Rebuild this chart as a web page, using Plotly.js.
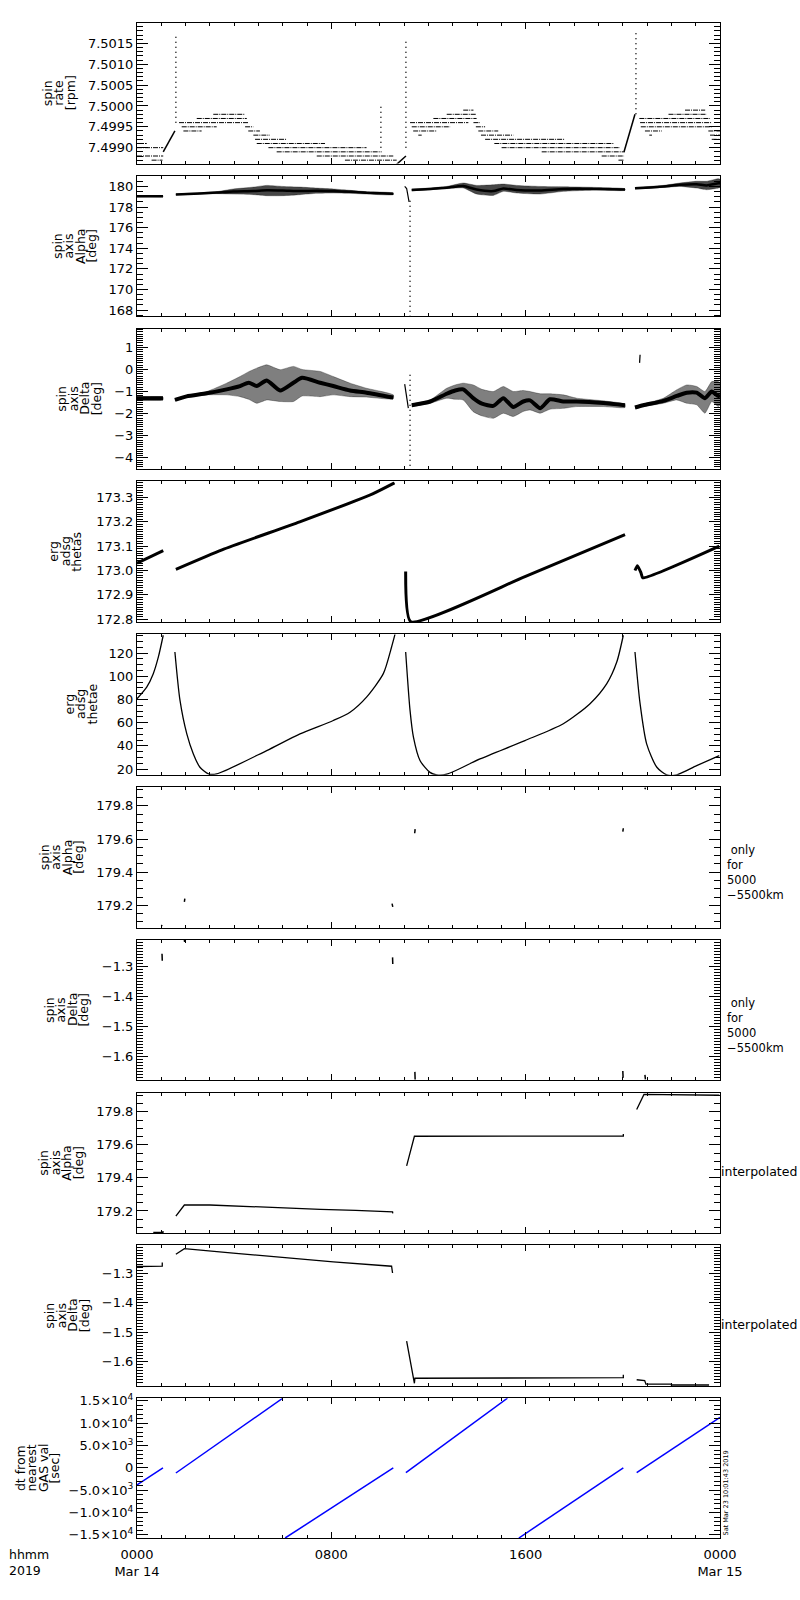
<!DOCTYPE html>
<html><head><meta charset="utf-8">
<script src="https://cdn.plot.ly/plotly-3.0.1.min.js"></script>
<style>body{margin:0;background:#fff}#plot{width:800px;height:1600px}</style>
</head><body><div id="plot"></div>
<script>
// ---------------- DATA (hours since 0000 UT, Mar 14 2019) ----------------
// Panel 1: spin rate [rpm] - quantised levels
const rateLevelStart = [0,0,0,0.6, 1.73,2.46,3.14,1.84,1.91,4.45,4.58,4.79,4.86,4.93,5.41,5.75,7.40,8.56,
  11.24,11.31,11.37,11.58,12.20,12.75,13.43,13.85,13.95,14.05,14.16,14.33,14.71,15.01,16.66,19.13,19.82,
  22.56,21.88,20.68,20.71,20.74,20.91,21.09,23.52,23.59,23.66];
const rateLevelEnd = [0.40,1.08,1.08,1.05, 4.58,4.52,4.45,3.28,2.66,4.79,5.06,5.47,6.16,7.74,9.45,10.07,10.55,10.69,
  13.64,12.89,12.34,11.72,13.98,13.95,13.85,14.12,14.33,14.87,15.49,17.62,19.61,19.88,20.09,20.05,20.05,
  23.39,23.45,23.59,23.66,23.66,21.60,21.20,24.0,24.0,24.0];
const rateLevel = [7.4991,7.4990,7.4988,7.4987, 7.4996,7.4997,7.4998,7.4995,7.4994,7.4995,7.4994,7.4993,7.4992,7.4991,7.4990,7.4989,7.4988,7.4987,
  7.4996,7.4995,7.4994,7.4993,7.4997,7.4998,7.4999,7.4996,7.4995,7.4994,7.4993,7.4992,7.4991,7.4990,7.4989,7.4988,7.4987,
  7.4999,7.4998,7.4997,7.4996,7.4995,7.4994,7.4993,7.4994,7.4993,7.4992];
const rateRampStart = [1.08, 10.69, 20.05];
const rateRampEnd = [1.56, 11.07, 20.50];
const rateRampFrom = [7.4989, 7.4986, 7.4989];
const rateRampTo = [7.4994, 7.4988, 7.4998];
const rateSpikeH = [1.60, 10.04, 11.07, 20.54];
const rateSpikeLow = [7.4996, 7.4990, 7.4990, 7.4998];
const rateSpikeHigh = [7.5017, 7.5000, 7.50155, 7.50184];

// Panel 2: spin axis Alpha [deg] - scattered bands (envelopes + dense core)
const alphaH = [[0,0.5,1.07],[1.6,2.59,3.28,3.96,4.8,5.34,6.0,6.7,7.4,8.08,8.77,9.45,10.55],
  [11.31,12.07,12.75,13.43,13.98,14.67,15.08,15.63,16.59,17.55,18.92,20.09],[20.5,21.67,22.35,23.04,23.45,23.93,24]];
const alphaUp = [[179.1,179.1,179.1],[179.27,179.39,179.49,179.75,179.94,180.1,180.0,179.94,179.84,179.75,179.62,179.49,179.36],
  [179.75,179.85,180.0,180.33,180.1,180.16,180.23,180.1,180.0,179.97,179.9,179.77],[179.9,180.1,180.33,180.5,180.5,180.75,180.7]];
const alphaLo = [[178.98,179.0,179.0],[179.17,179.26,179.3,179.26,179.2,179.1,179.1,179.2,179.33,179.36,179.33,179.26,179.2],
  [179.58,179.68,179.78,179.85,179.26,179.13,179.52,179.36,179.26,179.52,179.65,179.62],[179.75,179.9,180.0,179.84,179.68,179.84,179.9]];
const alphaCore = [[179.05,179.05,179.05],[179.22,179.32,179.4,179.5,179.55,179.62,179.6,179.55,179.58,179.55,179.48,179.38,179.28],
  [179.66,179.76,179.88,180.05,179.7,179.55,179.8,179.65,179.6,179.75,179.75,179.7],[179.82,180.0,180.15,180.2,180.1,180.3,180.3]];
const alphaDipH = [11.02, 11.1, 11.2];
const alphaDipV = [180.0, 179.8, 178.5];
const alphaDropH = [11.24, 11.24];
const alphaDropV = [178.6, 167.4];

// Panel 3: spin axis Delta [deg]
const deltaH = [[0,0.5,1.07],[1.56,2.04,2.87,3.69,4.24,4.6,4.93,5.34,5.89,6.44,6.8,7.54,8.08,8.77,9.45,10.55],
  [11.31,12.07,12.75,13.1,13.43,13.84,14.2,14.67,15.08,15.49,15.9,16.18,16.6,17.0,17.55,18.1,19.2,20.09],
  [20.5,20.84,21.67,22.22,22.63,23.04,23.38,23.66,23.93,24]];
const deltaUp = [[-1.22,-1.23,-1.25],[-1.35,-1.18,-1.0,-0.62,-0.32,-0.1,0.06,0.21,-0.01,0.14,0.0,-0.09,-0.32,-0.62,-0.85,-1.15],
  [-1.57,-1.38,-0.85,-0.7,-0.62,-0.7,-0.9,-1.0,-0.77,-1.0,-0.95,-1.0,-1.1,-1.1,-1.15,-1.3,-1.42,-1.57],
  [-1.68,-1.57,-1.3,-0.92,-0.7,-0.77,-1.0,-0.55,-0.55,-0.6]];
const deltaLo = [[-1.4,-1.4,-1.38],[-1.41,-1.25,-1.15,-1.15,-1.23,-1.35,-1.53,-1.38,-1.45,-1.45,-1.2,-1.23,-1.15,-1.23,-1.25,-1.33],
  [-1.68,-1.53,-1.3,-1.35,-1.38,-1.91,-2.1,-2.21,-1.98,-2.13,-1.9,-1.83,-1.98,-1.8,-1.76,-1.68,-1.68,-1.72],
  [-1.76,-1.68,-1.53,-1.38,-1.53,-1.6,-1.98,-1.45,-1.68,-1.6]];
const deltaCore = [[-1.3,-1.3,-1.3],[-1.38,-1.22,-1.08,-0.9,-0.75,-0.6,-0.75,-0.5,-0.95,-0.6,-0.38,-0.6,-0.75,-0.95,-1.05,-1.27],
  [-1.62,-1.45,-1.1,-0.95,-0.9,-1.3,-1.55,-1.65,-1.3,-1.7,-1.45,-1.4,-1.75,-1.35,-1.45,-1.45,-1.52,-1.62],
  [-1.72,-1.62,-1.42,-1.2,-1.05,-1.05,-1.3,-1.0,-1.2,-1.15]];
const deltaDipH = [11.02, 11.1, 11.17];
const deltaDipV = [-0.66, -1.2, -1.75];
const deltaDropH = [11.24, 11.24];
const deltaDropV = [-0.24, -4.6];
const deltaHookH = [20.69, 20.70, 20.71];
const deltaHookV = [0.30, 0.50, 0.67];

// Panel 4: erg adsg thetas
const thetasH = [[0,1.08],[1.6,3.5,6.7,9.7,10.6],[11.06,11.27,15.97,20.09],[20.5,20.6,20.75,20.82,23.97]];
const thetasV = [[173.03,173.082],[173.005,173.085,173.2,173.315,173.36],[172.996,172.79,172.975,173.147],[173.0,173.02,172.99,172.97,173.10]];

// Panel 5: erg adsg thetae
const thetaeH = [[0,0.4,0.67,0.88,1.08],
  [1.56,1.77,2.05,2.32,2.59,2.94,3.28,5.34,6.71,8.08,8.77,9.45,10.14,10.48,10.62],
  [11.06,11.24,11.38,11.65,12.06,12.34,12.75,14.12,15.97,17.55,18.65,19.34,19.75,20.02],
  [20.5,20.71,20.98,21.4,21.81,22.22,23.04,23.97]];
const thetaeV = [[80.6,90.6,102.2,116.6,135.3],
  [120.9,79.1,50.3,33,21.5,15.8,15.8,35.9,50.3,61.8,69,82,102.2,125.2,136],
  [120.9,70.5,47.4,27.3,17.1,14.9,15.5,28.7,44.5,59,76.3,93.6,112.2,135.3],
  [120.9,76.3,41.7,21.5,14.9,14.9,22.9,31.6]];

// Panel 6: Alpha only for 5000-5500 km (short marks)
const alphaOnlyH = [[1.0,1.04],[1.95,1.97],[10.5,10.53],[11.43,11.45],[20.0,20.02],[20.91,20.93]];
const alphaOnlyV = [[179.075,179.08],[179.22,179.24],[179.21,179.19],[179.635,179.66],[179.645,179.665],[179.9,179.91]];
// Panel 7: Delta only for 5000-5500 km
const deltaOnlyH = [[1.03,1.04],[1.95,1.96],[10.52,10.53],[11.44,11.45],[20.0,20.01],[20.91,20.93]];
const deltaOnlyV = [[-1.258,-1.281],[-1.212,-1.219],[-1.27,-1.292],[-1.65,-1.675],[-1.647,-1.67],[-1.66,-1.675]];

// Panel 8: Alpha interpolated
const alphaIntH = [[0.67,1.07,1.07],[1.6,1.95,3.0,4.5,6.0,7.55,9.0,10.52,10.53],[11.1,11.42,20.02,20.02],[20.57,20.87,23.97]];
const alphaIntV = [[179.07,179.07,179.078],[179.169,179.236,179.236,179.226,179.216,179.21,179.203,179.195,179.185],
  [179.473,179.652,179.653,179.665],[179.814,179.905,179.9]];
// Panel 9: Delta interpolated
const deltaIntH = [[0,0.36,1.04,1.04],[1.6,1.95,3.96,6.02,8.08,10.48,10.52],[11.1,11.42,11.44,14.33,14.33,20.02,20.02],
  [20.57,20.9,20.95,22.0,22.0,23.55]];
const deltaIntV = [[-1.276,-1.275,-1.275,-1.262],[-1.234,-1.215,-1.23,-1.246,-1.26,-1.275,-1.298],
  [-1.53,-1.674,-1.657,-1.657,-1.655,-1.655,-1.645],[-1.662,-1.665,-1.677,-1.677,-1.68,-1.68]];

// Panel 10: dt from nearest GAS val [sec]
const dtH = [[0,1.07],[1.6,6.0],[6.1,10.55],[11.07,15.25],[15.72,20.02],[20.57,24]];
const dtV = [[-3800,0],[-1150,15600],[-15700,0],[-1060,15600],[-15700,0],[-1060,11300]];

// Labels
const xTickVals = [0, 8, 16, 24];
const xTickText = ['0000<br>Mar 14', '0800', '1600', '0000<br>Mar 15'];
const dtTickVals = [-15000, -10000, -5000, 0, 5000, 10000, 15000];
const dtTickText = ['\u22121.5\u00d710<sup>4</sup>', '\u22121.0\u00d710<sup>4</sup>', '\u22125.0\u00d710<sup>3</sup>', '0',
  '5.0\u00d710<sup>3</sup>', '1.0\u00d710<sup>4</sup>', '1.5\u00d710<sup>4</sup>'];
const panelTitles = [['spin','rate','[rpm]'],['spin','axis','Alpha','[deg]'],['spin','axis','Delta','[deg]'],
  ['erg','adsg','thetas'],['erg','adsg','thetae'],['spin','axis','Alpha','[deg]'],['spin','axis','Delta','[deg]'],
  ['spin','axis','Alpha','[deg]'],['spin','axis','Delta','[deg]'],['dt from','nearest','GAS val','[sec]']];
const sideOnlyText = ' only<br>for<br>5000<br>\u22125500km';
const sideInterp = 'interpolated';
const axisUnitText = 'hhmm<br>2019';
const stampText = 'Sat Mar 23 10:01:43 2019';

// ---------------- BUILD ----------------
const FONT = 'DejaVu Sans, Liberation Sans, sans-serif';
const L = 137, R = 720, TOP = 23, BOT = 1538;
const PW = R - L, PHt = BOT - TOP;
const STEP = 152.8, HGT = 140.5;
const px2x = p => (p - L) / PW;
const px2y = p => (BOT - p) / PHt;
const panelTop = i => TOP + STEP * i;
const panelBot = i => Math.min(BOT, TOP + STEP * i + HGT);
const axn = i => ({xaxis: i === 0 ? 'x' : 'x' + (i + 1), yaxis: i === 0 ? 'y' : 'y' + (i + 1)});

const traces = [];
function line(i, x, y, opts) {
  traces.push(Object.assign({type: 'scatter', mode: 'lines', x: x, y: y, hoverinfo: 'skip',
    line: {color: 'black', width: 1.2}}, axn(i), opts || {}));
}
function band(i, h, up, lo, core, coreW, alpha) {
  const xs = h.concat(h.slice().reverse());
  const ys = up.concat(lo.slice().reverse());
  traces.push(Object.assign({type: 'scatter', mode: 'lines', x: xs, y: ys, fill: 'toself',
    fillcolor: 'rgba(0,0,0,' + alpha + ')', line: {width: 0.6, color: 'rgba(0,0,0,0.5)', shape: 'spline', smoothing: 0.5},
    hoverinfo: 'skip'}, axn(i)));
  line(i, h, core, {line: {color: 'black', width: coreW, shape: 'spline', smoothing: 0.6}});
}

// Panel 1
{
  const x = [], y = [];
  rateLevel.forEach((v, k) => { x.push(rateLevelStart[k], rateLevelEnd[k], null); y.push(v, v, null); });
  line(0, x, y, {line: {color: 'black', width: 1, dash: '5px,1px,1px,1px'}});
  const rx = [], ry = [];
  rateRampStart.forEach((s, k) => { rx.push(s, rateRampEnd[k], null); ry.push(rateRampFrom[k], rateRampTo[k], null); });
  line(0, rx, ry, {line: {color: 'black', width: 1.5}});
  const sx = [], sy = [];
  rateSpikeH.forEach((h, k) => { sx.push(h, h, null); sy.push(rateSpikeLow[k], rateSpikeHigh[k], null); });
  line(0, sx, sy, {line: {color: 'black', width: 1.5, dash: '1px,4px'}});
}
// Panel 2
alphaH.forEach((h, k) => band(1, h, alphaUp[k], alphaLo[k], alphaCore[k], 2.5, 0.72));
line(1, alphaDipH, alphaDipV, {line: {color: 'black', width: 1.2}});
line(1, alphaDropH, alphaDropV, {line: {color: 'black', width: 1.5, dash: '1px,4px'}});
// Panel 3
deltaH.forEach((h, k) => band(2, h, deltaUp[k], deltaLo[k], deltaCore[k], 4, 0.5));
line(2, deltaDipH, deltaDipV, {line: {color: 'black', width: 1.2}});
line(2, deltaDropH, deltaDropV, {line: {color: 'black', width: 1.5, dash: '1px,4px'}});
line(2, deltaHookH, deltaHookV, {line: {color: 'black', width: 1.2}});
// Panel 4
thetasH.forEach((h, k) => line(3, h, thetasV[k], {line: {color: 'black', width: 3, shape: 'spline', smoothing: 0.5}}));
// Panel 5
thetaeH.forEach((h, k) => line(4, h, thetaeV[k], {line: {color: 'black', width: 1.3, shape: 'spline', smoothing: 0.7}}));
// Panel 6, 7
alphaOnlyH.forEach((h, k) => line(5, h, alphaOnlyV[k], {line: {color: 'black', width: 1.5}}));
deltaOnlyH.forEach((h, k) => line(6, h, deltaOnlyV[k], {line: {color: 'black', width: 1.5}}));
// Panel 8, 9
alphaIntH.forEach((h, k) => line(7, h, alphaIntV[k], {line: {color: 'black', width: 1.3}}));
deltaIntH.forEach((h, k) => line(8, h, deltaIntV[k], {line: {color: 'black', width: 1.3}}));
// Panel 10
dtH.forEach((h, k) => line(9, h, dtV[k], {line: {color: '#0000ff', width: 1.5}}));

// Axes
const yCfg = [
  {range: [7.49862, 7.50199], dtick: 0.0005, tick0: 7.499, minor: 0.0001, fmt: '.4f'},
  {range: [167.4, 181.03], dtick: 2, tick0: 168, minor: 0.5, fmt: 'd'},
  {range: [-4.51, 1.85], dtick: 1, tick0: 0, minor: 0.1, fmt: 'd'},
  {range: [172.789, 173.366], dtick: 0.1, tick0: 172.8, minor: 0.01, fmt: '.1f'},
  {range: [15.1, 136.2], dtick: 20, tick0: 20, minor: 5, fmt: 'd'},
  {range: [179.066, 179.914], dtick: 0.2, tick0: 179.2, minor: 0.05, fmt: '.1f'},
  {range: [-1.678, -1.2116], dtick: 0.1, tick0: -1.6, minor: 0.01, fmt: '.1f'},
  {range: [179.066, 179.916], dtick: 0.2, tick0: 179.2, minor: 0.05, fmt: '.1f'},
  {range: [-1.683, -1.204], dtick: 0.1, tick0: -1.6, minor: 0.01, fmt: '.1f'},
  {range: [-15700, 15600], minor: 1000}
];

const layout = {
  width: 800, height: 1600, margin: {l: L, r: 800 - R, t: TOP, b: 1600 - BOT, pad: 0},
  paper_bgcolor: 'white', plot_bgcolor: 'white', showlegend: false,
  font: {family: FONT, size: 13, color: 'black'},
  annotations: []
};

for (let i = 0; i < 10; i++) {
  const dom = [Math.max(0, px2y(panelBot(i))), px2y(panelTop(i))];
  const xa = {
    domain: [0, 1], range: [0, 24], anchor: axn(i).yaxis, showgrid: false, zeroline: false,
    showline: true, linecolor: 'black', linewidth: 1, mirror: 'ticks',
    ticks: 'inside', ticklen: 6, tickcolor: 'black', tickwidth: 1,
    tickmode: 'array', tickvals: xTickVals, ticktext: xTickText,
    showticklabels: i === 9, tickfont: {family: FONT, size: 13, color: 'black'}, ticklabelstandoff: 4,
    minor: {dtick: 1, tick0: 0, ticks: 'inside', ticklen: 3, tickcolor: 'black', showgrid: false},
    fixedrange: true
  };
  if (i > 0) xa.matches = 'x';
  const c = yCfg[i];
  const ya = {
    domain: dom, range: c.range, anchor: axn(i).xaxis, showgrid: false, zeroline: false,
    showline: true, linecolor: 'black', linewidth: 1, mirror: 'ticks',
    ticks: 'inside', ticklen: 11, tickcolor: 'black', tickwidth: 1,
    tickfont: {family: FONT, size: 13, color: 'black'},
    minor: {dtick: c.minor, ticks: 'inside', ticklen: 6, tickcolor: 'black', showgrid: false},
    fixedrange: true
  };
  if (i === 9) { ya.tickmode = 'array'; ya.tickvals = dtTickVals; ya.ticktext = dtTickText; ya.minor.tick0 = 0; }
  else { ya.tickmode = 'linear'; ya.dtick = c.dtick; ya.tick0 = c.tick0; ya.tickformat = c.fmt; ya.minor.tick0 = c.tick0; }
  layout[i === 0 ? 'xaxis' : 'xaxis' + (i + 1)] = xa;
  layout[i === 0 ? 'yaxis' : 'yaxis' + (i + 1)] = ya;
}

// y titles (one annotation per line, rotated)
const titleX0 = [47, 57, 62, 54, 69, 44, 49, 44, 50, 20];
const LINE = 11.5;
panelTitles.forEach((lines, i) => {
  const yc = (panelTop(i) + panelBot(i)) / 2;
  lines.forEach((t, k) => {
    layout.annotations.push({text: t, textangle: -90, xref: 'paper', yref: 'paper',
      x: px2x(titleX0[i] + LINE * k), y: px2y(yc), xanchor: 'center', yanchor: 'middle',
      showarrow: false, font: {family: FONT, size: 12.5, color: 'black'}});
  });
});
// side labels
[5, 6].forEach(i => {
  const yc = (panelTop(i) + panelBot(i)) / 2;
  layout.annotations.push({text: sideOnlyText, xref: 'paper', yref: 'paper', x: px2x(725),
    y: px2y(yc + 15), xanchor: 'left', yanchor: 'middle', align: 'left', showarrow: false,
    font: {family: FONT, size: 11.5, color: 'black'}});
});
[7, 8].forEach(i => {
  const yc = (panelTop(i) + panelBot(i)) / 2;
  layout.annotations.push({text: sideInterp, xref: 'paper', yref: 'paper', x: px2x(719),
    y: px2y(yc + 8.7), xanchor: 'left', yanchor: 'middle', showarrow: false,
    font: {family: FONT, size: 12.5, color: 'black'}});
});
layout.annotations.push({text: axisUnitText, xref: 'paper', yref: 'paper', x: px2x(7), y: px2y(1545),
  xanchor: 'left', yanchor: 'top', align: 'left', showarrow: false, font: {family: FONT, size: 12.5, color: 'black'}});
layout.annotations.push({text: stampText, textangle: -90, xref: 'paper', yref: 'paper', x: px2x(725.5),
  y: px2y(1493), xanchor: 'center', yanchor: 'middle', showarrow: false,
  font: {family: FONT, size: 6.5, color: 'black'}});

Plotly.newPlot('plot', traces, layout, {staticPlot: true, displayModeBar: false});
</script></body></html>
